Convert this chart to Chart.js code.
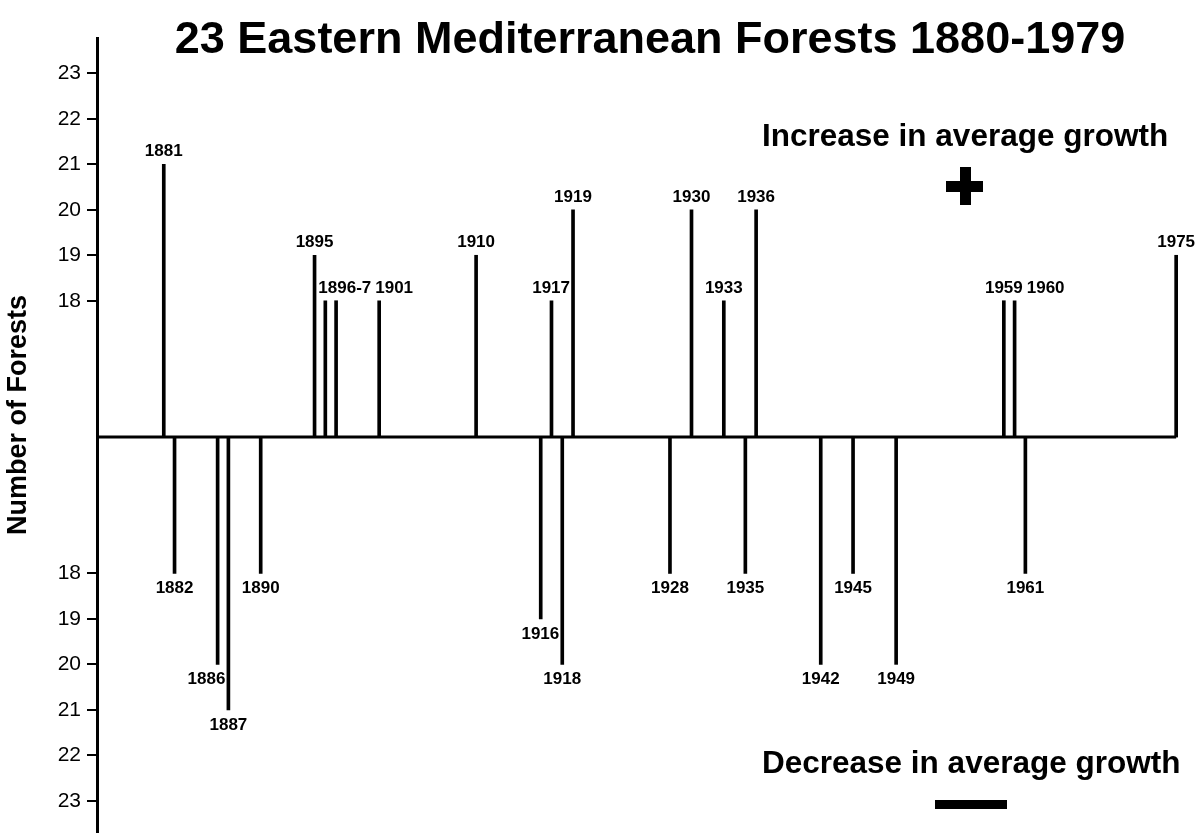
<!DOCTYPE html>
<html>
<head>
<meta charset="utf-8">
<script src="https://cdn.jsdelivr.net/npm/chart.js@4.4.1/dist/chart.umd.min.js"></script>
<style>
  body { margin: 0; background: #fff; }
  canvas { display: block; }
</style>
</head>
<body>
<canvas id="chart" width="1197" height="833"></canvas>
<script>
// the vertical axis is broken: the baseline stands for 15 forests
const BASE = 15;

const incYears  = [1881, 1895, 1896, 1897, 1901, 1910, 1917, 1919, 1930, 1933, 1936, 1959, 1960, 1975];
const incCounts = [21, 19, 18, 18, 18, 19, 18, 20, 20, 18, 20, 18, 18, 19];
const incLabels = ['1881', '1895', '1896-7', '', '1901', '1910', '1917', '1919', '1930', '1933', '1936', '1959', '1960', '1975'];

const decYears  = [1882, 1886, 1887, 1890, 1916, 1918, 1928, 1935, 1942, 1945, 1949, 1961];
const decCounts = [18, 20, 21, 18, 19, 20, 18, 18, 20, 18, 20, 18];
const decLabels = ['1882', '1886', '1887', '1890', '1916', '1918', '1928', '1935', '1942', '1945', '1949', '1961'];

const tickCounts = [18, 19, 20, 21, 22, 23];

const titleText = '23 Eastern Mediterranean Forests 1880-1979';
const upText = 'Increase in average growth';
const downText = 'Decrease in average growth';
const yTitle = 'Number of Forests';

const FONT = '"Liberation Sans", Arial, Helvetica, sans-serif';
const X_MIN = 1874.8, X_MAX = 1976.1;
const lastYear = Math.max(...incYears, ...decYears);

const incData = incYears.map((y, i) => ({ x: y, y: incCounts[i] - BASE }));
const decData = decYears.map((y, i) => ({ x: y, y: -(decCounts[i] - BASE) }));

const yTicks = tickCounts.map(c => c - BASE).concat(tickCounts.map(c => -(c - BASE)));

// year labels at the ends of the lines; kept off longer neighbouring lines,
// and the later one pushed right when two touch
const yearLabels = {
  id: 'yearLabels',
  afterDatasetsDraw(chart) {
    const ctx = chart.ctx;
    ctx.save();
    ctx.font = 'bold 17px ' + FONT;
    ctx.fillStyle = '#000';
    ctx.textAlign = 'center';
    ctx.textBaseline = 'alphabetic';
    [[0, incLabels, true], [1, decLabels, false]].forEach(([di, texts, up]) => {
      const els = chart.getDatasetMeta(di).data;
      const items = [];
      els.forEach((el, i) => {
        if (!texts[i]) return;
        const w = ctx.measureText(texts[i]).width;
        let x = el.x;
        if (texts[i + 1] === '') x = el.x - 7 + w / 2;
        const y = up ? el.y - 8 : el.y + 20;
        els.forEach((other, j) => {
          if (j === i || texts[j] === '' || texts[i + 1] === '') return;
          const longer = up ? other.y < y - 12 : other.y > y - 12;
          if (longer && Math.abs(other.x - x) < w / 2 + 3) {
            x = other.x > x ? other.x - 3 - w / 2 : other.x + 3 + w / 2;
          }
        });
        items.push({ t: texts[i], x: x, y: y, w: w });
      });
      items.sort((a, b) => a.x - b.x);
      for (let i = 1; i < items.length; i++) {
        const a = items[i - 1], b = items[i];
        if (Math.abs(a.y - b.y) > 1) continue;
        const need = (a.w + b.w) / 2 + 4 - (b.x - a.x);
        if (need > 0) b.x += need;
      }
      items.forEach(it => ctx.fillText(it.t, it.x, it.y));
    });
    ctx.restore();
  }
};

const decorations = {
  id: 'decorations',
  afterDraw(chart) {
    const ctx = chart.ctx;
    ctx.save();
    ctx.fillStyle = '#000';
    ctx.textBaseline = 'alphabetic';

    ctx.font = 'bold 45px ' + FONT;
    ctx.textAlign = 'center';
    ctx.fillText(titleText, 650, 53);

    ctx.font = 'bold 31.5px ' + FONT;
    ctx.textAlign = 'left';
    ctx.fillText(upText, 762, 146);
    ctx.fillText(downText, 762, 773);

    // plus and minus signs
    ctx.fillRect(946, 181, 37, 11);
    ctx.fillRect(960, 167, 11, 38);
    ctx.fillRect(935, 800, 72, 9);

    ctx.save();
    ctx.translate(19, 415);
    ctx.rotate(-Math.PI / 2);
    ctx.font = 'bold 27px ' + FONT;
    ctx.textAlign = 'center';
    ctx.textBaseline = 'middle';
    ctx.fillText(yTitle, 0, 0);
    ctx.restore();

    ctx.restore();
  }
};

const ctx = document.getElementById('chart').getContext('2d');

const chart = new Chart(ctx, {
  type: 'bar',
  data: {
    datasets: [
      {
        label: 'Increase',
        data: incData,
        backgroundColor: '#000',
        barThickness: 3,
        grouped: false
      },
      {
        label: 'Decrease',
        data: decData,
        backgroundColor: '#000',
        barThickness: 3,
        grouped: false
      },
      {
        type: 'line',
        label: 'Baseline',
        data: [{ x: X_MIN, y: 0 }, { x: lastYear, y: 0 }],
        borderColor: '#000',
        borderWidth: 3,
        pointRadius: 0,
        clip: false
      }
    ]
  },
  options: {
    responsive: false,
    animation: false,
    layout: { padding: { top: 38, bottom: 0, left: 0, right: 9 } },
    scales: {
      x: {
        type: 'linear',
        min: X_MIN,
        max: X_MAX,
        offset: false,
        display: false
      },
      y: {
        type: 'linear',
        min: -8.71,
        max: 8.78,
        afterBuildTicks(scale) {
          scale.ticks = yTicks.map(v => ({ value: v }));
        },
        afterFit(scale) {
          scale.width = 97;
          scale.paddingTop = 0;
          scale.paddingBottom = 0;
        },
        ticks: {
          color: '#000',
          padding: 6,
          font: { family: FONT, size: 21 },
          callback: (v) => String(Math.abs(v) + BASE)
        },
        grid: {
          drawOnChartArea: false,
          drawTicks: true,
          tickLength: 10,
          color: '#000',
          lineWidth: 2
        },
        border: { display: true, color: '#000', width: 3 }
      }
    },
    plugins: {
      legend: { display: false },
      title: { display: false },
      tooltip: { enabled: false }
    }
  },
  plugins: [yearLabels, decorations]
});
</script>
</body>
</html>
